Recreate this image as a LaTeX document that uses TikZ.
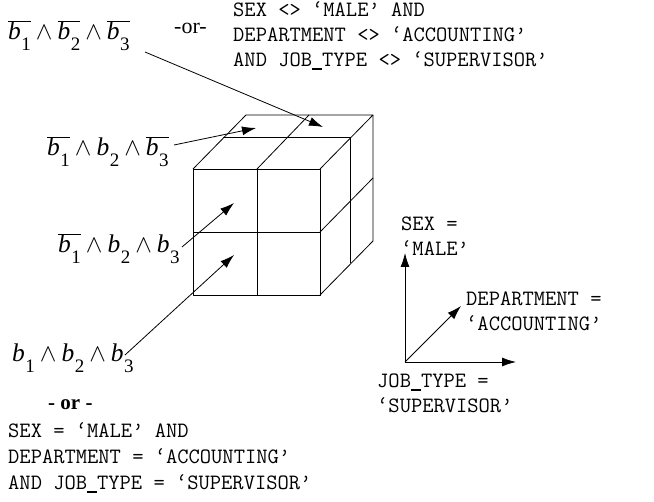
\documentclass[tikz,border=0pt]{standalone}
\usepackage{fontspec}
\setmainfont{Liberation Serif}
\usetikzlibrary{arrows.meta}
\newcommand\bv[1]{\textit{b}\kern0.5pt\raisebox{-0.42em}{\fontsize{19}{19}\selectfont #1}}
\newcommand\bvbar[1]{$\overline{\hbox{\bv{#1}}}$}
\newcommand\andop{\kern5pt$\wedge$\kern5pt}
\newcommand\us{\rule[-3pt]{10pt}{1.6pt}}
\begin{document}
\begin{tikzpicture}[x=1pt,y=-1pt,
  mono/.style={font=\fontsize{21.9}{25}\selectfont\ttfamily, inner sep=0pt, anchor=base west},
  mlabel/.style={font=\fontsize{25.5}{28}\selectfont, inner sep=0pt, anchor=base west},
  orlabel/.style={font=\fontsize{22}{24}\selectfont, inner sep=0pt, anchor=base west},
  edge/.style={line width=0.8pt, line join=round},
  conn/.style={line width=0.8pt, -{Latex[length=14pt,width=9pt]}}]
\useasboundingbox (0,0) rectangle (654,502);

% ---- cube ----
\coordinate (A) at (193,169); \coordinate (B) at (320,169);
\coordinate (C) at (320,295); \coordinate (D) at (193,295);
\draw[edge] (A) -- (B) -- (C) -- (D) -- cycle;
\draw[edge] (257,169) -- (257,295);
\draw[edge] (193,232) -- (320,232);
% top face
\draw[edge] (A) -- (246,115) -- (373,115) -- (B);
\draw[edge] (257,169) -- (309,115);
\draw[edge] (223,137) -- (350,137);
% right face
\draw[edge] (373,115) -- (373,241) -- (C);
\draw[edge] (350,137) -- (350,263);
\draw[edge] (320,232) -- (373,178);

% ---- top label ----
\node[mlabel] (l1) at (8,40) {\bvbar{1}\andop\bvbar{2}\andop\bvbar{3}};
\node[orlabel] (or1) at (174,34) {-or-};
\node[mono] (q1a) at (233,17) {SEX <> ‘MALE’ AND};
\node[mono] (q1b) at (233,42) {DEPARTMENT <> ‘ACCOUNTING’};
\node[mono] (q1c) at (233,67) {AND JOB\us TYPE <> ‘SUPERVISOR’};

% ---- side labels ----
\node[mlabel] (l2) at (47,156) {\bvbar{1}\andop\bv{2}\andop\bvbar{3}};
\node[mlabel] (l3) at (58,253) {\bvbar{1}\andop\bv{2}\andop\bv{3}};
\node[mlabel] (l4) at (12,362) {\bv{1}\andop\bv{2}\andop\bv{3}};
\node[orlabel, font=\fontsize{21}{24}\selectfont\bfseries] (or2) at (48,410) {- or -};
\node[mono] (q2a) at (8,438) {SEX = ‘MALE’ AND};
\node[mono] (q2b) at (8,464) {DEPARTMENT = ‘ACCOUNTING’};
\node[mono] (q2c) at (8,490) {AND JOB\us TYPE = ‘SUPERVISOR’};

% ---- connectors ----
\coordinate (s1) at (145,52);  \coordinate (t1) at (323,127);
\coordinate (s2) at (174,145); \coordinate (t2) at (256,128);
\coordinate (s3) at (182,247); \coordinate (t3) at (234,203);
\coordinate (s4) at (125,355); \coordinate (t4) at (234,255);
\draw[conn] (s1) -- (t1);
\draw[conn] (s2) -- (t2);
\draw[conn] (s3) -- (t3);
\draw[conn] (s4) -- (t4);

% ---- axes ----
\coordinate (O) at (405,362);
\coordinate (ay) at (405,253);
\coordinate (ax) at (516,362);
\coordinate (az) at (461,306);
\draw[conn] (O) -- (ay);
\draw[conn] (O) -- (ax);
\draw[conn] (O) -- (az);
\node[mono] (sexa) at (401,231) {SEX =};
\node[mono] (sexb) at (401,256) {‘MALE’};
\node[mono] (depa) at (466,306) {DEPARTMENT =};
\node[mono] (depb) at (466,331) {‘ACCOUNTING’};
\node[mono] (joba) at (377,388) {JOB\us TYPE =};
\node[mono] (jobb) at (377,413) {‘SUPERVISOR’};
\end{tikzpicture}
\end{document}
